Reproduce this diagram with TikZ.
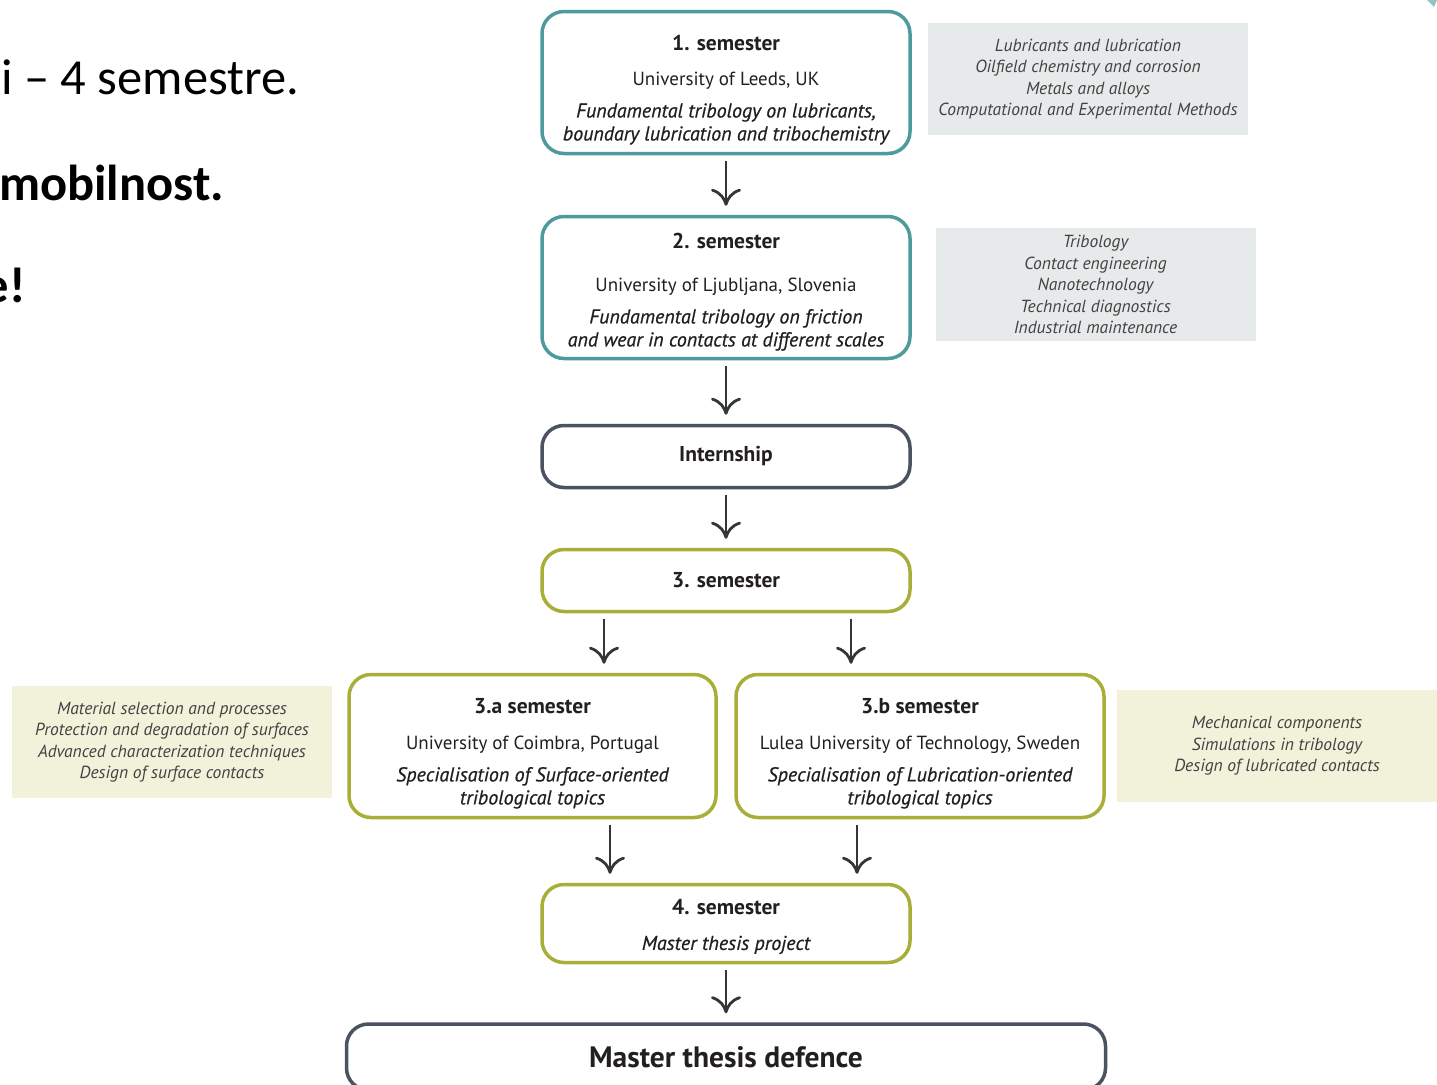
\documentclass[tikz,border=0pt]{standalone}
\usepackage{fontspec}
\setmainfont{PT Sans}
\newfontfamily\slidefont{Carlito}
\newfontfamily\semiit{PT Sans}[ItalicFeatures={FakeBold=0.6}]
\usepackage{tikz}
\usepackage{xcolor}
\usetikzlibrary{arrows.meta}
\definecolor{tealline}{HTML}{4E9A9C}
\definecolor{darkline}{HTML}{4B5260}
\definecolor{oliveline}{HTML}{A8AE38}
\definecolor{grayfill}{HTML}{E6EAEA}
\definecolor{olivefill}{HTML}{F2F1DA}
\definecolor{arrowgray}{HTML}{333638}
\definecolor{inkgray}{HTML}{231F20}
\newcommand\headstrut[1]{\rule{0pt}{#1}}
\newcommand\topic[1]{{\semiit\itshape\fontsize{20}{23}\selectfont #1}}

\begin{document}
\begin{tikzpicture}[x=1pt,y=-1pt,
    box/.style={draw,rounded corners=22pt,line width=3.5pt,fill=white,align=center,inner sep=0pt,
        minimum width=368pt,text=inkgray,font=\fontsize{19}{23}\selectfont},
    tealbox/.style={box,draw=tealline,minimum height=142pt},
    greybox/.style={box,draw=darkline,minimum height=62pt},
    olivebox/.style={box,draw=oliveline},
    note/.style={align=center,inner sep=0pt,minimum width=320pt,minimum height=112pt,
        text=inkgray!85,font=\fontsize{17.5}{21.5}\selectfont\itshape},
    flow/.style={draw=arrowgray,line width=2.8pt,-{Computer Modern Rightarrow[length=17pt,width=30pt]},
        shorten <=6pt,shorten >=9pt},
    slide/.style={anchor=west,inner sep=0pt,text=black,font=\fontsize{50.5}{54}\selectfont\slidefont}
]
\useasboundingbox (0,0) rectangle (1437,1084);

% slide text, cut by the left edge
\node[slide] (line1) at (1,77) {i – 4 semestre.};
\node[slide,font=\fontsize{50.5}{54}\selectfont\slidefont\bfseries] (line2) at (-1,183) {mobilnost.};
\node[slide,anchor=east,font=\fontsize{50.5}{54}\selectfont\slidefont\bfseries] (line3) at (26,285) {e!};
\fill[tealline!60] (1427,0) -- (1437,0) -- (1434,7) -- cycle;

% semesters
\node[tealbox] (s1) at (726,82.5) {\headstrut{30pt}\textbf{\fontsize{21.5}{23}\selectfont 1. semester}\\[12pt]
    University of Leeds, UK\\[9pt]
    \topic{Fundamental tribology on lubricants,}\\
    \topic{boundary lubrication and tribochemistry}};
\node[tealbox] (s2) at (726,287.5) {\headstrut{24pt}\textbf{\fontsize{21.5}{23}\selectfont 2. semester}\\[20pt]
    University of Ljubljana, Slovenia\\[9pt]
    \topic{Fundamental tribology on friction}\\
    \topic{and wear in contacts at different scales}};
\node[greybox] (intern) at (726,456.5) {\textbf{\fontsize{21.5}{23}\selectfont Internship}};
\node[olivebox,minimum height=62pt] (s3) at (726,580.5) {\textbf{\fontsize{21.5}{23}\selectfont 3. semester}};
\node[olivebox,minimum height=143pt,minimum width=367pt] (s3a) at (532.5,746) {\headstrut{30pt}\textbf{\fontsize{21.5}{23}\selectfont 3.a semester}\\[13pt]
    University of Coimbra, Portugal\\[9pt]
    \topic{Specialisation of Surface-oriented}\\
    \topic{tribological topics}};
\node[olivebox,minimum height=143pt] (s3b) at (920,746) {\headstrut{30pt}\textbf{\fontsize{21.5}{23}\selectfont 3.b semester}\\[13pt]
    Lulea University of Technology, Sweden\\[9pt]
    \topic{Specialisation of Lubrication-oriented}\\
    \topic{tribological topics}};
\node[olivebox,minimum height=78pt] (s4) at (726,923.5) {\headstrut{22pt}\textbf{\fontsize{21.5}{23}\selectfont 4. semester}\\[12pt]
    \topic{Master thesis project}};
\node[box,draw=darkline,minimum width=759pt,minimum height=66pt] (defence) at (726,1057)
    {\textbf{\fontsize{29.5}{31}\selectfont Master thesis defence}};

% courses beside
\node[note,fill=grayfill] (c1) at (1088,79) {Lubricants and lubrication\\Oilfield chemistry and corrosion\\
    Metals and alloys\\Computational and Experimental Methods};
\node[note,fill=grayfill,minimum height=113pt] (c2) at (1095.5,284.5) {Tribology\\Contact engineering\\
    Nanotechnology\\Technical diagnostics\\Industrial maintenance};
\node[note,fill=olivefill] (ca) at (172,742) {Material selection and processes\\
    Protection and degradation of surfaces\\Advanced characterization techniques\\Design of surface contacts};
\node[note,fill=olivefill] (cb) at (1277,746) {Mechanical components\\Simulations in tribology\\
    Design of lubricated contacts};

% flow
\draw[flow] (s1) -- (s2);
\draw[flow] (s2) -- (intern);
\draw[flow] (intern) -- (s3);
\coordinate (fa) at ([xshift=-122pt]s3.south);
\coordinate (fb) at ([xshift=125pt]s3.south);
\draw[flow] (fa) -- (fa |- s3a.north);
\draw[flow] (fb) -- (fb |- s3b.north);
\coordinate (ga) at ([xshift=-116pt]s4.north);
\coordinate (gb) at ([xshift=131pt]s4.north);
\draw[flow] (ga |- s3a.south) -- (ga);
\draw[flow] (gb |- s3b.south) -- (gb);
\draw[flow] (s4) -- (defence);
\end{tikzpicture}
\end{document}
